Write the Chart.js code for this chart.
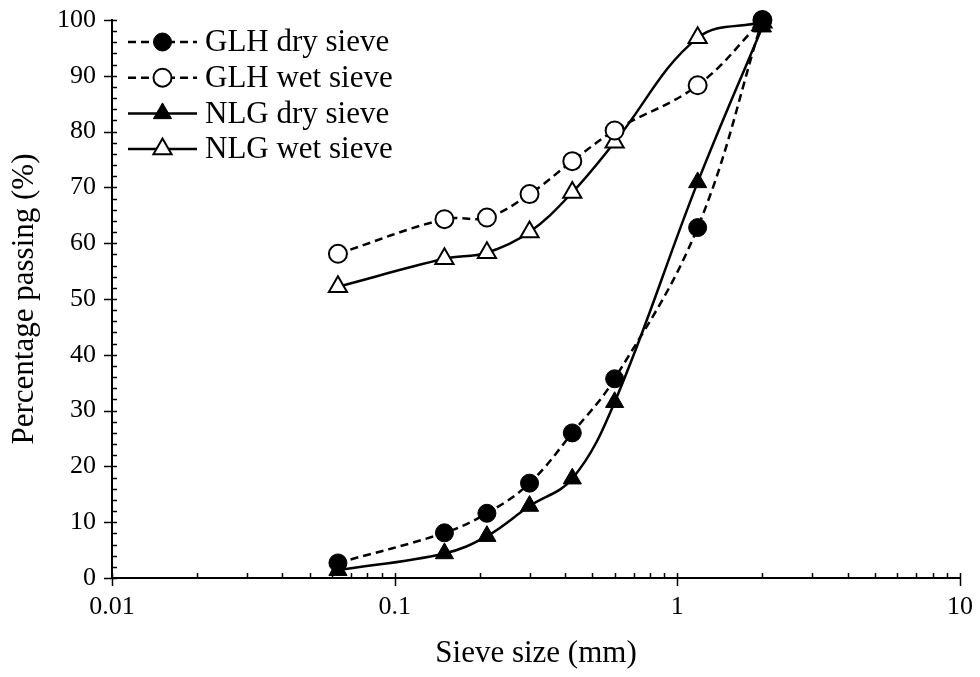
<!DOCTYPE html>
<html>
<head>
<meta charset="utf-8">
<title>Particle size distribution</title>
<script src="https://cdn.jsdelivr.net/npm/chart.js@4/dist/chart.umd.min.js"></script>
<style>
  html, body { margin: 0; padding: 0; background: #ffffff; }
  #wrap { width: 980px; height: 677px; }
  canvas { display: block; background: #ffffff; }
</style>
</head>
<body>
<div id="wrap"><canvas id="psd" width="980" height="677"></canvas></div>
<script>
// Sieve openings (mm)
const sieveSizes = [0.063, 0.15, 0.212, 0.3, 0.425, 0.6, 1.18, 2.0];

// Percentage passing for each sample
const glhDry = [2.7, 8.1, 11.6, 17.0, 26.0, 35.7, 62.8, 100];
const glhWet = [58.1, 64.3, 64.6, 68.8, 74.7, 80.2, 88.3, 100];
const nlgDry = [1.4, 4.4, 7.5, 12.9, 17.8, 31.5, 70.9, 98.8];
const nlgWet = [52.2, 57.2, 58.3, 62.0, 69.1, 78.1, 96.8, 99.6];

const seriesNames = ['GLH dry sieve', 'GLH wet sieve', 'NLG dry sieve', 'NLG wet sieve'];

// Axis ticks
const xTickValues = [0.01, 0.1, 1, 10];
const xTickLabels = ['0.01', '0.1', '1', '10'];
const yTickValues = [0, 10, 20, 30, 40, 50, 60, 70, 80, 90, 100];

const SERIF = '"Liberation Serif", "Times New Roman", serif';

function toPoints(ys) {
  return sieveSizes.map((x, i) => ({ x: x, y: ys[i] }));
}

const styles = [
  { dash: [8, 5], style: 'circle', fill: '#000000', radius: 9 },
  { dash: [8, 5], style: 'circle', fill: '#ffffff', radius: 9 },
  { dash: [], style: 'triangle', fill: '#000000', radius: 10.5 },
  { dash: [], style: 'triangle', fill: '#ffffff', radius: 10.5 }
];

const seriesValues = [glhDry, glhWet, nlgDry, nlgWet];

const datasets = seriesValues.map((vals, i) => ({
  label: seriesNames[i],
  data: toPoints(vals),
  borderColor: '#000000',
  borderWidth: 2.5,
  borderDash: styles[i].dash,
  tension: 0.38,
  fill: false,
  clip: false,
  pointStyle: styles[i].style,
  pointRadius: styles[i].radius,
  pointBackgroundColor: styles[i].fill,
  pointBorderColor: '#000000',
  pointBorderWidth: styles[i].fill === '#ffffff' ? 2 : 1
}));

// Minor ticks: inward on both axes; major ticks cross the axis line
const axisTicks = {
  id: 'axisTicks',
  afterDraw(chart) {
    const ctx = chart.ctx;
    const xs = chart.scales.x;
    const ys = chart.scales.y;
    const area = chart.chartArea;
    ctx.save();
    ctx.strokeStyle = '#000000';
    ctx.lineWidth = 1.5;
    ctx.beginPath();
    // x axis
    for (let d = -2; d <= 0; d++) {
      for (let m = 2; m <= 9; m++) {
        const px = Math.round(xs.getPixelForValue(m * Math.pow(10, d))) + 0.5;
        ctx.moveTo(px, area.bottom);
        ctx.lineTo(px, area.bottom - 5);
      }
    }
    xTickValues.forEach(v => {
      const px = Math.round(xs.getPixelForValue(v)) + 0.5;
      ctx.moveTo(px, area.bottom - 5);
      ctx.lineTo(px, area.bottom + 8);
    });
    // y axis
    for (let v = 0; v <= 100; v += 2) {
      const py = Math.round(ys.getPixelForValue(v)) + 0.5;
      if (v % 10 === 0) {
        ctx.moveTo(area.left - 8, py);
        ctx.lineTo(area.left + 5, py);
      } else {
        ctx.moveTo(area.left, py);
        ctx.lineTo(area.left + 5, py);
      }
    }
    ctx.stroke();
    ctx.restore();
  }
};

// Legend with line sample and marker for each series
const lineLegend = {
  id: 'lineLegend',
  afterDraw(chart) {
    const ctx = chart.ctx;
    const area = chart.chartArea;
    const x0 = area.left + 16;
    const x1 = area.left + 85;
    const xm = (x0 + x1) / 2;
    ctx.save();
    chart.data.datasets.forEach((ds, i) => {
      const y = area.top + 22 + i * 35.7;
      ctx.strokeStyle = '#000000';
      ctx.lineWidth = ds.borderWidth;
      ctx.setLineDash(ds.borderDash);
      ctx.beginPath();
      ctx.moveTo(x0, y);
      ctx.lineTo(x1, y);
      ctx.stroke();
      ctx.setLineDash([]);
      ctx.fillStyle = ds.pointBackgroundColor;
      ctx.lineWidth = ds.pointBorderWidth;
      Chart.helpers.drawPoint(ctx, {
        pointStyle: ds.pointStyle,
        radius: ds.pointRadius,
        rotation: 0,
        borderWidth: ds.pointBorderWidth
      }, xm, y);
      ctx.fillStyle = '#000000';
      ctx.font = '31px ' + SERIF;
      ctx.textAlign = 'left';
      ctx.textBaseline = 'middle';
      ctx.fillText(ds.label, x1 + 8, y + 1);
    });
    ctx.restore();
  }
};

new Chart(document.getElementById('psd'), {
  type: 'line',
  data: { datasets: datasets },
  options: {
    responsive: false,
    animation: false,
    events: [],
    layout: { padding: { left: 0, right: 20, top: 20, bottom: 0 } },
    plugins: {
      legend: { display: false },
      tooltip: { enabled: false }
    },
    scales: {
      x: {
        type: 'logarithmic',
        min: 0.01,
        max: 10,
        afterBuildTicks(scale) {
          scale.ticks = xTickValues.map(v => ({ value: v }));
        },
        afterFit(scale) {
          scale.height = 99;
          scale.paddingLeft = 0;
          scale.paddingRight = 0;
        },
        grid: { display: false, drawTicks: false },
        border: { display: true, color: '#000000', width: 2 },
        ticks: {
          color: '#000000',
          font: { family: SERIF, size: 26 },
          padding: 14,
          maxRotation: 0,
          autoSkip: false,
          callback: (v) => {
            const k = xTickValues.indexOf(v);
            return k >= 0 ? xTickLabels[k] : '';
          }
        },
        title: {
          display: true,
          text: 'Sieve size (mm)',
          color: '#000000',
          font: { family: SERIF, size: 31 },
          padding: { top: 0, bottom: 5 }
        }
      },
      y: {
        type: 'linear',
        min: 0,
        max: 100,
        afterBuildTicks(scale) {
          scale.ticks = yTickValues.map(v => ({ value: v }));
        },
        afterFit(scale) {
          scale.width = 112;
          scale.paddingTop = 0;
          scale.paddingBottom = 0;
        },
        grid: { display: false, drawTicks: false },
        border: { display: true, color: '#000000', width: 2 },
        ticks: {
          color: '#000000',
          font: { family: SERIF, size: 26 },
          padding: 16
        },
        title: {
          display: true,
          text: 'Percentage passing (%)',
          color: '#000000',
          font: { family: SERIF, size: 31 },
          padding: { top: 6, bottom: 0 }
        }
      }
    }
  },
  plugins: [axisTicks, lineLegend]
});
</script>
</body>
</html>
